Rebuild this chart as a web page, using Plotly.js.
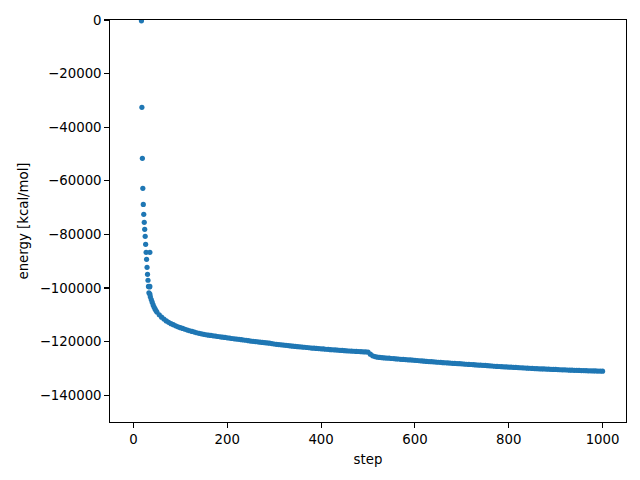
<!DOCTYPE html>
<html>
<head>
<meta charset="utf-8">
<script src="https://cdn.plot.ly/plotly-3.0.1.min.js"></script>
<style>html,body{margin:0;padding:0;background:#fff;}#chart{width:640px;height:480px;}</style>
</head>
<body>
<div id="chart"></div>
<script>
// step numbers and energies
const earlySteps = [17, 18, 19, 20, 21, 22, 23, 24, 25, 26, 27, 28, 29, 30, 31, 32, 33, 34, 35, 35, 35, 36, 38, 40, 42, 44, 46, 48];
const earlyEnergy = [-300, -32600, -51600, -62800, -68800, -72500, -75500, -78100, -80700, -83700, -86700, -89300, -92300, -94900, -97100, -99400, -101800, -99600, -86700, -99400, -102300, -103300, -104300, -105300, -106300, -107100, -107800, -108400];

const laterEnergy = [
-109000,-110000,-110900,-111600,-112300,-112800,-113300,-113700,-114100,-114500,
-114800,-115100,-115400,-115700,-115950,-116200,-116450,-116700,-116900,-117100,
-117300,-117450,-117600,-117700,-117850,-117950,-118100,-118200,-118350,-118450,
-118600,-118700,-118850,-118950,-119050,-119150,-119300,-119400,-119500,-119650,
-119800,-119900,-120000,-120100,-120200,-120300,-120400,-120500,-120600,-120750,
-120900,-121000,-121100,-121200,-121300,-121400,-121500,-121600,-121700,-121800,
-121900,-121950,-122050,-122100,-122200,-122300,-122400,-122450,-122550,-122600,
-122700,-122750,-122850,-122900,-123000,-123050,-123100,-123150,-123250,-123300,
-123400,-123450,-123500,-123550,-123600,-123650,-123700,-123750,-123800,-123850,
-123900,-124700,-125300,-125600,-125800,-125900,-126000,-126100,-126150,-126200,
-126300,-126350,-126450,-126500,-126600,-126650,-126700,-126800,-126850,-126900,
-127000,-127050,-127150,-127200,-127300,-127400,-127450,-127500,-127550,-127650,
-127700,-127750,-127850,-127900,-127950,-128000,-128100,-128150,-128200,-128250,
-128300,-128400,-128450,-128500,-128550,-128600,-128700,-128750,-128800,-128850,
-128900,-129000,-129050,-129100,-129200,-129250,-129300,-129350,-129400,-129450,
-129500,-129550,-129600,-129650,-129700,-129750,-129800,-129850,-129900,-129950,
-130000,-130050,-130100,-130150,-130200,-130200,-130250,-130300,-130350,-130400,
-130400,-130450,-130500,-130550,-130550,-130600,-130650,-130650,-130700,-130700,
-130750,-130800,-130800,-130850,-130900,-130900,-130950,-130950,-131000,-131000,
-131050];
const laterSteps = [];
for (let i = 0; i < laterEnergy.length; i++) laterSteps.push(50 + 5 * i);

const steps = earlySteps.concat(laterSteps);
const energy = earlyEnergy.concat(laterEnergy);

const xTicks = [0, 200, 400, 600, 800, 1000];
const yTicks = [0, -20000, -40000, -60000, -80000, -100000, -120000, -140000];

const font = {family: 'DejaVu Sans, sans-serif', size: 13.3, color: '#000'};
const axisCommon = {
  showline: true, mirror: true, linecolor: '#000', linewidth: 1.07,
  ticks: 'outside', ticklen: 4.7, tickwidth: 1.07, tickcolor: '#000',
  showgrid: false, zeroline: false, tickfont: font,
  exponentformat: 'none', separatethousands: false
};

Plotly.newPlot('chart', [{
  x: steps, y: energy, type: 'scatter', mode: 'markers',
  marker: {color: '#1f77b4', size: 5.2, line: {width: 0}},
  cliponaxis: true, hoverinfo: 'skip'
}], {
  width: 640, height: 480,
  margin: {l: 110, r: 14, t: 20, b: 58, pad: 0},
  paper_bgcolor: '#fff', plot_bgcolor: '#fff',
  showlegend: false,
  font: font,
  xaxis: Object.assign({}, axisCommon, {
    range: [-50, 1050], tickmode: 'array', tickvals: xTicks,
    ticktext: xTicks.map(String),
    title: {text: 'step', font: font, standoff: 8}
  }),
  yaxis: Object.assign({}, axisCommon, {
    range: [-150000, 0], tickmode: 'array', tickvals: yTicks,
    ticktext: yTicks.map(v => v < 0 ? '\u2212' + Math.abs(v) : String(v)),
    title: {text: 'energy [kcal/mol]', font: font, standoff: 8}
  })
}, {staticPlot: true});
</script>
</body>
</html>
